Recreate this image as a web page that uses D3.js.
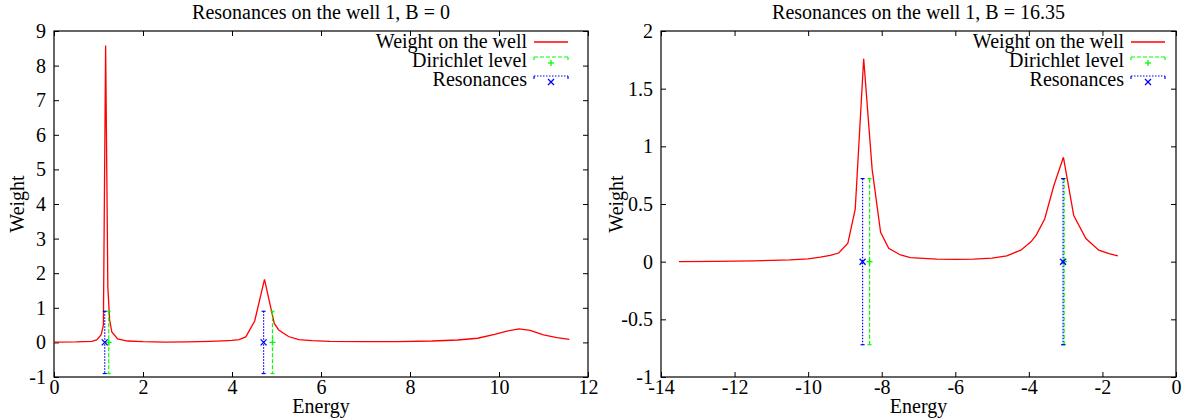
<!DOCTYPE html>
<html>
<head>
<meta charset="utf-8">
<script src="https://cdn.jsdelivr.net/npm/d3@7"></script>
<style>
  body { margin: 0; background: #fff; }
  svg text { font-family: "Liberation Serif", "Times New Roman", serif; fill: #000; }
</style>
</head>
<body>
<script>
// weight on the well, B = 0
const energyB0 = [0, 0.5, 0.85, 0.96, 1.06, 1.11, 1.16, 1.21, 1.25, 1.30, 1.43, 1.65, 2.0, 2.5, 3.0, 3.5, 3.8, 4.0, 4.16, 4.31, 4.51, 4.73, 4.95, 5.05, 5.27, 5.5, 5.8, 6.2, 7.0, 7.7, 8.5, 9.07, 9.52, 9.9, 10.2, 10.45, 10.7, 11.0, 11.3, 11.58];
const weightB0 = [0.01, 0.015, 0.03, 0.07, 0.22, 0.5, 8.58, 1.6, 0.65, 0.3, 0.1, 0.04, 0.02, 0.01, 0.015, 0.03, 0.045, 0.06, 0.08, 0.16, 0.62, 1.82, 0.55, 0.36, 0.17, 0.08, 0.05, 0.03, 0.02, 0.025, 0.04, 0.07, 0.12, 0.23, 0.33, 0.39, 0.35, 0.22, 0.14, 0.09];
const dirichletB0 = [1.23, 4.91];
const resonanceB0 = [1.14, 4.71];
const barB0 = [0.9, 0.9];

// weight on the well, B = 16.35
const energyB1635 = [-13.51, -12.5, -11.5, -10.5, -10.0, -9.67, -9.40, -9.17, -8.92, -8.72, -8.49, -8.26, -8.03, -7.81, -7.49, -7.22, -6.5, -6.0, -5.5, -5.0, -4.6, -4.22, -3.95, -3.8, -3.57, -3.32, -3.06, -2.78, -2.45, -2.1, -1.82, -1.58];
const weightB1635 = [0.0, 0.003, 0.006, 0.015, 0.025, 0.04, 0.055, 0.075, 0.16, 0.455, 1.76, 0.80, 0.255, 0.116, 0.058, 0.035, 0.022, 0.02, 0.022, 0.03, 0.05, 0.1, 0.17, 0.23, 0.37, 0.66, 0.905, 0.40, 0.2, 0.1, 0.07, 0.05];
const dirichletB1635 = [-8.33, -3.04];
const resonanceB1635 = [-8.52, -3.07];
const barB1635 = [0.72, 0.72];

// axes
const xTicksB0 = [0, 2, 4, 6, 8, 10, 12];
const yTicksB0 = [-1, 0, 1, 2, 3, 4, 5, 6, 7, 8, 9];
const xTicksB1635 = [-14, -12, -10, -8, -6, -4, -2, 0];
const yTicksB1635 = [-1, -0.5, 0, 0.5, 1, 1.5, 2];

const legendLabels = ['Weight on the well', 'Dirichlet level', 'Resonances'];

const COLORS = { weight: '#ff0000', dirichlet: '#00ff00', resonance: '#0000ff' };
const FONT_SIZE = 20;
const TICK = 5;

const svg = d3.select('body').append('svg')
  .attr('width', 1194)
  .attr('height', 418);

const zip = (xs, ys) => xs.map((x, i) => [x, ys[i]]);

function drawPanel(opts) {
  const x = d3.scaleLinear().domain(opts.xDomain).range([opts.left, opts.right]);
  const y = d3.scaleLinear().domain(opts.yDomain).range([opts.bottom, opts.top]);
  const fmt = d => String(d);
  const g = svg.append('g').attr('class', 'panel');
  const clipId = 'clip' + opts.id;

  g.append('clipPath').attr('id', clipId)
    .append('rect')
    .attr('x', opts.left).attr('y', opts.top)
    .attr('width', opts.right - opts.left).attr('height', opts.bottom - opts.top);

  // ticks, all pointing inward, mirrored on top and right
  const axes = [
    [d3.axisBottom(x).tickValues(opts.xTicks).tickFormat(fmt), `translate(0,${opts.bottom})`],
    [d3.axisTop(x).tickValues(opts.xTicks).tickFormat(''), `translate(0,${opts.top})`],
    [d3.axisLeft(y).tickValues(opts.yTicks).tickFormat(fmt), `translate(${opts.left},0)`],
    [d3.axisRight(y).tickValues(opts.yTicks).tickFormat(''), `translate(${opts.right},0)`]
  ];
  axes.forEach(([axis, tr], i) => {
    const a = g.append('g')
      .attr('transform', tr)
      .call(axis.tickSizeInner(-TICK).tickSizeOuter(0).tickPadding(i === 2 ? 8 : 3));
    a.attr('font-family', null).attr('font-size', null);
    a.select('.domain').remove();
    a.selectAll('line').attr('stroke', '#000');
    a.selectAll('text')
      .attr('font-family', '"Liberation Serif", serif')
      .style('font-size', FONT_SIZE + 'px');
  });

  g.append('rect')
    .attr('x', opts.left).attr('y', opts.top)
    .attr('width', opts.right - opts.left).attr('height', opts.bottom - opts.top)
    .attr('fill', 'none').attr('stroke', '#000').attr('stroke-width', 1.2);

  // titles
  const cx = (opts.left + opts.right) / 2;
  g.append('text').attr('x', cx).attr('y', 19)
    .attr('text-anchor', 'middle').style('font-size', FONT_SIZE + 'px')
    .text(opts.title);
  g.append('text').attr('x', cx).attr('y', 413)
    .attr('text-anchor', 'middle').style('font-size', FONT_SIZE + 'px')
    .text('Energy');
  g.append('text')
    .attr('transform', `translate(${opts.ylabelX},${(opts.top + opts.bottom) / 2}) rotate(-90)`)
    .attr('text-anchor', 'middle').style('font-size', FONT_SIZE + 'px')
    .text('Weight');

  const plot = g.append('g').attr('clip-path', `url(#${clipId})`);

  // weight curve
  plot.append('path')
    .datum(zip(opts.energy, opts.weight))
    .attr('d', d3.line().x(d => x(d[0])).y(d => y(d[1])))
    .attr('fill', 'none')
    .attr('stroke', COLORS.weight)
    .attr('stroke-width', 1.3);

  // error bars for dirichlet levels and resonances
  const bars = [
    { xs: opts.dirichlet, color: COLORS.dirichlet, dash: '4,2', marker: 'plus' },
    { xs: opts.resonance, color: COLORS.resonance, dash: '1.5,1.5', marker: 'cross' }
  ];
  bars.forEach(b => {
    const bg = plot.append('g');
    b.xs.forEach((e, i) => {
      const px = x(e), hi = y(opts.bar[i]), lo = y(-opts.bar[i]);
      bg.append('line')
        .attr('x1', px).attr('x2', px).attr('y1', hi).attr('y2', lo)
        .attr('stroke', b.color).attr('stroke-dasharray', b.dash).attr('stroke-width', 1.2);
      [hi, lo].forEach(yy => bg.append('line')
        .attr('x1', px - 2).attr('x2', px + 2).attr('y1', yy).attr('y2', yy)
        .attr('stroke', b.color).attr('stroke-width', 1.2));
      drawMarker(bg, b.marker, px, y(0), b.color);
    });
  });

  // legend
  const lineEnd = opts.legendRight;
  const lineStart = lineEnd - 34;
  const rowY = [41, 60, 79];
  const lg = g.append('g').attr('class', 'legend');
  legendLabels.forEach((label, i) => {
    lg.append('text')
      .attr('x', lineStart - 7).attr('y', rowY[i]).attr('dy', '0.35em')
      .attr('text-anchor', 'end').style('font-size', FONT_SIZE + 'px')
      .text(label);
  });
  lg.append('line')
    .attr('x1', lineStart).attr('x2', lineEnd).attr('y1', rowY[0] + 1).attr('y2', rowY[0] + 1)
    .attr('stroke', COLORS.weight).attr('stroke-width', 1.3);
  bars.forEach((b, i) => {
    const yy = rowY[i + 1] - 3;
    lg.append('line')
      .attr('x1', lineStart).attr('x2', lineEnd).attr('y1', yy).attr('y2', yy)
      .attr('stroke', b.color).attr('stroke-dasharray', b.dash).attr('stroke-width', 1.2);
    [lineStart, lineEnd].forEach(px => lg.append('line')
      .attr('x1', px).attr('x2', px).attr('y1', yy).attr('y2', yy + 3)
      .attr('stroke', b.color).attr('stroke-width', 1.2));
    drawMarker(lg, b.marker, (lineStart + lineEnd) / 2, yy + 6, b.color);
  });
}

function drawMarker(sel, type, px, py, color) {
  const s = 3;
  const segs = type === 'plus'
    ? [[px - s, py, px + s, py], [px, py - s, px, py + s]]
    : [[px - s, py - s, px + s, py + s], [px - s, py + s, px + s, py - s]];
  segs.forEach(([x1, y1, x2, y2]) => sel.append('line')
    .attr('x1', x1).attr('y1', y1).attr('x2', x2).attr('y2', y2)
    .attr('stroke', color).attr('stroke-width', 1.3));
}

drawPanel({
  id: 'B0', title: 'Resonances on the well 1, B = 0',
  left: 54, right: 588, top: 31, bottom: 377, legendRight: 568, ylabelX: 24,
  xDomain: [0, 12], yDomain: [-1, 9], xTicks: xTicksB0, yTicks: yTicksB0,
  energy: energyB0, weight: weightB0,
  dirichlet: dirichletB0, resonance: resonanceB0, bar: barB0
});

drawPanel({
  id: 'B1635', title: 'Resonances on the well 1, B = 16.35',
  left: 661, right: 1176, top: 31, bottom: 377, legendRight: 1165, ylabelX: 623,
  xDomain: [-14, 0], yDomain: [-1, 2], xTicks: xTicksB1635, yTicks: yTicksB1635,
  energy: energyB1635, weight: weightB1635,
  dirichlet: dirichletB1635, resonance: resonanceB1635, bar: barB1635
});
</script>
</body>
</html>
